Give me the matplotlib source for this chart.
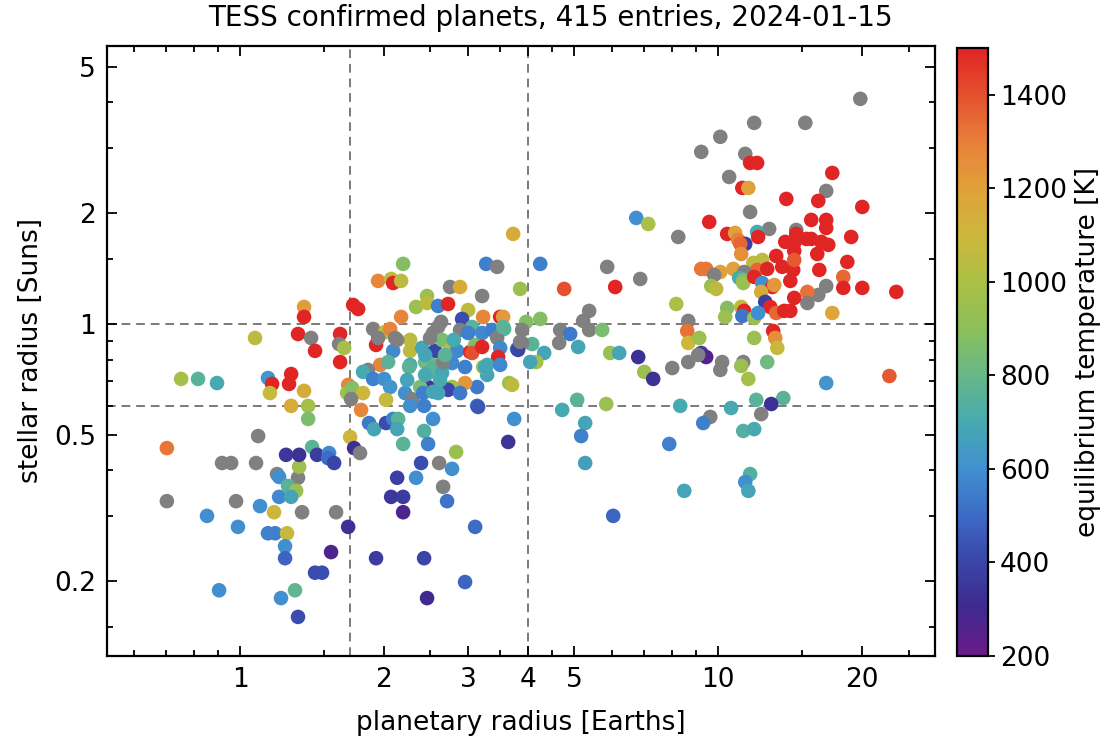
import numpy as np
import matplotlib
matplotlib.use("Agg")
import matplotlib.pyplot as plt
from matplotlib.colors import LinearSegmentedColormap
from matplotlib.ticker import FixedLocator, FixedFormatter, NullFormatter

# ------------------------------------------------------------
# data (nan = no temperature -> grey)
# ------------------------------------------------------------
nan = np.nan

# small planets / sub-Neptunes, left part
r_planet_small = [
    0.703, 0.703, 0.753, 0.817, 0.895, 0.853, 0.904, 0.917, 0.958, 0.981,
    0.990, 1.075, 1.080, 1.091, 1.101, 1.144, 1.167, 1.155, 1.279, 1.266,
    1.361, 1.279, 1.388, 1.388, 1.178, 1.207, 1.195, 1.207, 1.322, 1.329,
    1.260, 1.310, 1.279, 1.348, 1.588, 1.144, 1.184, 1.254, 1.242, 1.242,
    1.415, 1.248, 1.329, 1.449, 1.535, 1.528, 1.573, 1.683, 1.550, 1.435,
    1.484, 1.303, 1.218, 1.322, 1.699, 1.732, 1.782, 1.361, 1.361, 1.724,
    1.766, 1.322, 1.408, 1.435, 1.619, 1.611, 1.651, 1.619,
]
r_star_small = [
    0.460, 0.330, 0.709, 0.709, 0.691, 0.301, 0.189, 0.419, 0.419, 0.330,
    0.281, 0.916, 0.419, 0.496, 0.320, 0.713, 0.687, 0.649, 0.731, 0.687,
    0.658, 0.599, 0.599, 0.552, 0.308, 0.339, 0.391, 0.384, 0.382, 0.409,
    0.363, 0.352, 0.339, 0.308, 0.308, 0.270, 0.270, 0.270, 0.249, 0.231,
    0.463, 0.441, 0.441, 0.441, 0.446, 0.432, 0.419, 0.281, 0.240, 0.211,
    0.211, 0.189, 0.180, 0.160, 0.493, 0.460, 0.446, 1.112, 1.045, 1.126,
    1.098, 0.939, 0.916, 0.845, 0.939, 0.882, 0.861, 0.788,
]
t_eq_small = [
    1320, nan, 980, 760, 700, 600, 600, nan, nan, nan,
    600, 1050, nan, nan, 600, 620, 1500, 1080, 1500, 1500,
    1150, 1150, 980, 860, 1100, 580, nan, 600, nan, 950,
    760, 950, 680, nan, nan, 560, 560, 1080, 600, 480,
    760, 350, 330, 370, 580, 500, 400, 330, 270, 420,
    420, 780, 600, 420, 1100, 320, nan, 1220, 1500, 1500,
    1500, 1500, nan, 1500, 1500, nan, 980, 1500,
]

# central cluster, 1.8 - 6 Earth radii
r_planet_mid = [
    3.725, 2.193, 1.944, 2.070, 2.090, 2.172, 3.271, 3.449, 3.852, 2.749,
    2.885, 3.208, 2.461, 2.334, 2.461, 2.595, 2.723, 2.999, 2.172, 2.913,
    3.224, 3.499, 3.550, 4.244, 4.762, 6.089, 5.859, 6.869, 6.739, 7.139,
    8.249, 5.372, 5.218, 5.372, 5.719, 4.672, 4.649, 4.902, 5.094, 4.325,
    4.163, 4.083, 4.244, 3.966, 3.890, 3.890, 3.797, 3.567, 1.898, 2.011,
    2.060, 1.925, 1.944, 2.110, 2.090, 2.268, 2.268, 2.403, 2.558, 2.595,
    2.533, 2.646, 2.749, 2.844, 3.028, 3.102, 3.058, 3.208, 3.367, 3.449,
    3.550, 3.499, 3.465, 2.885, 2.999, 1.963, 2.040, 1.852, 2.268, 2.438,
    2.533, 2.776, 2.955, 3.286, 3.499, 1.808, 1.898, 2.001, 2.060, 2.020,
    2.257, 2.214, 2.290, 2.268, 2.426, 2.533, 1.861, 1.907, 2.020, 2.090,
    2.141, 2.131, 2.193, 2.426, 2.473, 2.391, 2.608, 2.776, 2.334, 2.131,
    2.659, 2.710, 2.070, 2.193, 2.193, 3.102, 2.830, 1.925, 2.426, 2.955,
    2.461, 3.637, 3.743, 3.132, 3.132, 2.955, 2.776, 2.723, 2.473, 2.380,
    2.414, 2.533, 2.595, 2.885, 3.654, 3.707, 3.286, 3.224, 2.473, 2.533,
    2.646, 2.620, 2.659, 3.058, 3.208, 3.255, 3.147, 3.815, 3.852, 4.044,
    1.683, 1.675, 1.716, 1.808, 1.707, 1.791, 2.236, 2.438, 2.131, 2.633,
    2.497, 2.438, 2.684, 2.800,
]
r_star_mid = [
    1.756, 1.456, 1.309, 1.325, 1.292, 1.309, 1.456, 1.429, 1.245, 1.260,
    1.260, 1.191, 1.191, 1.112, 1.140, 1.119, 1.133, 1.091, 1.045, 1.032,
    1.045, 1.045, 1.045, 1.456, 1.245, 1.260, 1.429, 1.325, 1.941, 1.869,
    1.723, 1.085, 1.019, 0.963, 0.963, 0.963, 0.888, 0.939, 0.866, 0.834,
    0.788, 0.882, 1.032, 1.013, 0.963, 0.888, 0.855, 0.969, 0.969, 0.951,
    0.969, 0.877, 0.916, 0.916, 0.845, 0.905, 0.845, 0.861, 0.845, 0.981,
    0.945, 0.905, 0.850, 0.845, 0.839, 0.877, 0.981, 0.945, 0.963, 0.916,
    0.981, 0.861, 0.813, 0.963, 0.945, 0.774, 0.788, 0.750, 0.774, 0.788,
    0.774, 0.783, 0.764, 0.774, 0.774, 0.741, 0.709, 0.709, 0.674, 0.622,
    0.764, 0.649, 0.625, 0.599, 0.599, 0.552, 0.538, 0.518, 0.538, 0.552,
    0.552, 0.518, 0.472, 0.512, 0.472, 0.419, 0.419, 0.404, 0.382, 0.382,
    0.361, 0.330, 0.339, 0.339, 0.308, 0.281, 0.449, 0.231, 0.231, 0.199,
    0.180, 0.478, 0.552, 0.674, 0.599, 0.691, 0.674, 0.662, 0.674, 0.674,
    0.649, 0.654, 0.649, 0.649, 0.691, 0.683, 0.727, 0.764, 0.736, 0.759,
    0.736, 0.704, 0.788, 0.834, 0.866, 0.764, 0.595, 0.850, 0.894, 0.788,
    0.683, 0.649, 0.670, 0.649, 0.625, 0.584, 0.704, 0.727, 0.905, 1.013,
    0.916, 0.824, 0.824, 0.905,
]
t_eq_mid = [
    1150, 880, 1280, 1050, 1500, 1050, 560, nan, 950, nan,
    1150, nan, 950, 950, 1050, 560, 1500, 1050, 1280, 420,
    1280, 1500, 1220, 560, 1400, 1500, nan, nan, 600, 1000,
    nan, nan, nan, nan, 850, nan, nan, 540, 680, 680,
    980, 760, 880, 880, nan, nan, 500, 760, nan, 1050,
    1280, 1500, nan, nan, 580, 1050, 1050, 680, 400, nan,
    nan, 850, 1050, 580, 1500, 880, 760, 580, 560, nan,
    760, 580, 1500, nan, 560, 1280, 760, nan, 700, 820,
    820, 580, 560, 700, 580, 700, 560, 600, 620, 1080,
    760, 600, nan, 600, 560, 600, 540, 680, 420, 560,
    760, 680, 760, 740, 560, 420, nan, 600, 600, 380,
    nan, 520, 350, 370, 280, 500, 950, 370, 400, 480,
    300, 340, 600, 540, 500, 1230, 950, 400, 350, 850,
    560, 680, 680, 540, 950, 1050, 680, 980, 700, 760,
    680, 700, nan, 1400, 1500, 680, 450, 400, nan, 680,
    1280, 950, 880, 1100, nan, 1280, 680, 700, nan, nan,
    nan, 680, 760, 700,
]

# giant planets, > 6 Earth radii
r_planet_big = [
    19.82, 11.89, 15.21, 10.10, 9.215, 11.39, 11.66, 12.06, 17.32, 10.54,
    11.23, 11.56, 16.82, 13.88, 16.19, 20.01, 11.66, 9.576, 15.65, 16.82,
    16.82, 12.78, 14.56, 14.56, 10.44, 10.85, 12.06, 12.12, 18.97, 15.28,
    15.65, 11.01, 11.39, 11.12, 13.81, 14.42, 16.42, 16.99, 11.17, 14.42,
    13.22, 16.11, 18.62, 12.36, 11.84, 12.06, 12.66, 13.61, 14.35, 14.42,
    16.27, 9.215, 9.438, 10.75, 10.10, 9.809, 11.33, 11.06, 11.28, 11.28,
    11.89, 12.36, 12.97, 13.10, 14.15, 18.26, 18.26, 20.01, 23.57, 16.82,
    16.19, 15.36, 15.36, 14.42, 12.30, 12.54, 12.85, 9.669, 9.904, 8.170,
    10.44, 10.34, 11.17, 11.33, 11.23, 11.89, 12.12, 13.22, 13.74, 14.15,
    17.32, 13.03, 13.16, 13.29, 11.89, 8.656, 8.614, 8.656, 9.126, 9.215,
    9.438, 9.081, 6.803, 5.945, 6.208, 7.003, 7.311, 8.014, 8.656, 10.10,
    10.19, 11.28, 11.17, 11.56, 12.66, 22.80, 16.82, 13.68, 12.91, 12.01,
    12.30, 10.64, 11.28, 11.89, 11.66, 11.39, 11.56, 9.623, 9.303, 8.329,
    8.491, 7.899, 6.031, 5.831, 5.070, 4.717, 5.269, 5.168, 5.269,
]
r_star_big = [
    4.088, 3.518, 3.518, 3.224, 2.934, 2.897, 2.738, 2.738, 2.572, 2.508,
    2.342, 2.342, 2.298, 2.186, 2.159, 2.079, 2.015, 1.893, 1.917, 1.917,
    1.823, 1.812, 1.800, 1.756, 1.756, 1.767, 1.778, 1.723, 1.723, 1.702,
    1.702, 1.691, 1.650, 1.650, 1.671, 1.660, 1.671, 1.640, 1.549, 1.579,
    1.530, 1.549, 1.474, 1.492, 1.465, 1.402, 1.411, 1.429, 1.402, 1.492,
    1.402, 1.411, 1.411, 1.411, 1.384, 1.359, 1.384, 1.334, 1.317, 1.292,
    1.342, 1.292, 1.260, 1.276, 1.309, 1.342, 1.253, 1.253, 1.222, 1.268,
    1.199, 1.222, 1.140, 1.177, 1.222, 1.148, 1.112, 1.268, 1.245, 1.133,
    1.105, 1.045, 1.112, 1.085, 1.051, 1.038, 1.071, 1.071, 1.085, 1.085,
    1.071, 0.957, 0.916, 0.861, 0.916, 1.019, 0.957, 0.888, 0.916, 0.834,
    0.813, 0.824, 0.813, 0.834, 0.834, 0.741, 0.709, 0.759, 0.788, 0.750,
    0.788, 0.788, 0.769, 0.709, 0.788, 0.722, 0.691, 0.629, 0.606, 0.622,
    0.569, 0.591, 0.512, 0.518, 0.391, 0.372, 0.352, 0.559, 0.538, 0.599,
    0.352, 0.472, 0.301, 0.606, 0.622, 0.584, 0.538, 0.496, 0.419,
]
t_eq_big = [
    nan, nan, nan, nan, nan, nan, 1500, 1500, 1500, nan,
    1500, 1200, nan, 1500, 1500, 1500, nan, 1500, 1500, 1500,
    1500, nan, nan, 1500, 1500, 1200, 700, 1500, 1500, 1500,
    1500, 1300, 380, 1350, 1500, 1500, 1500, 1500, 1250, 1500,
    1500, 1500, 1500, 1050, 1050, 1350, 1500, 1500, 1500, 1380,
    1500, 1320, 1320, 1200, 1200, nan, nan, 700, 850, 950,
    1500, 600, 1500, 1230, 1500, 1350, 1500, 1500, 1500, nan,
    nan, 1330, nan, 1500, 1150, 380, 1500, 950, 1050, 1000,
    880, 950, 1050, 1500, 530, 950, 600, 1350, 1500, 1500,
    1180, 1500, 1250, 1080, 950, nan, 1330, 1100, 950, 380,
    260, nan, 330, 950, 680, 950, 330, nan, nan, nan,
    nan, nan, 950, 980, 820, 1380, 620, 760, 330, 760,
    nan, 700, 740, 700, 740, 600, 680, nan, 560, 700,
    680, 560, 480, 950, 760, 700, 680, 560, 660,
]

# reference guide lines
R_PLANET_CUTS = [1.7, 4.0]
R_STAR_CUTS = [0.6, 1.0]

# colormap anchors (temperature K, colour)
CMAP_T = [200, 300, 400, 500, 600, 700, 800, 900, 1000, 1100, 1200, 1300, 1400, 1500]
CMAP_C = ["#6a1b8a", "#40298f", "#3a45a8", "#3c6cc6", "#4290d0", "#46aab0",
          "#67b889", "#8cbf5a", "#abc046", "#ccb73b", "#e0a13a", "#e8803a",
          "#e4512e", "#e02525"]
T_MIN, T_MAX = 200, 1500

FONT = ["DejaVu Sans"]


def main():
    plt.rcParams["font.family"] = FONT

    rp = np.array(r_planet_small + r_planet_mid + r_planet_big, dtype=float)
    rs = np.array(r_star_small + r_star_mid + r_star_big, dtype=float)
    te = np.array(t_eq_small + t_eq_mid + t_eq_big, dtype=float)

    pos = [(t - T_MIN) / (T_MAX - T_MIN) for t in CMAP_T]
    cmap = LinearSegmentedColormap.from_list("teq", list(zip(pos, CMAP_C)))
    cmap.set_bad("#808080")

    fig = plt.figure(figsize=(11.16, 7.43), dpi=100)
    ax = fig.add_axes([0.0959, 0.1171, 0.7419, 0.8210])
    cax = fig.add_axes([0.8575, 0.1171, 0.0280, 0.8183])

    for v in R_PLANET_CUTS:
        ax.axvline(v, color="#7a7a7a", linestyle=(0, (4.5, 3)), linewidth=1.4, zorder=1)
    for v in R_STAR_CUTS:
        ax.axhline(v, color="#7a7a7a", linestyle=(0, (4.5, 3)), linewidth=1.4, zorder=1)

    sc = ax.scatter(rp, rs, c=te, cmap=cmap, vmin=T_MIN, vmax=T_MAX, s=110,
                    linewidths=0, plotnonfinite=True, zorder=2)

    ax.set_xscale("log")
    ax.set_yscale("log")
    ax.set_xlim(0.527, 28.4)
    ax.set_ylim(0.1253, 5.69)

    xmaj = [1, 2, 3, 4, 5, 10, 20]
    ax.xaxis.set_major_locator(FixedLocator(xmaj))
    ax.xaxis.set_major_formatter(FixedFormatter([str(v) for v in xmaj]))
    ax.xaxis.set_minor_locator(FixedLocator([0.6, 0.7, 0.8, 0.9, 1.5, 2.5, 3.5, 4.5,
                                             6, 7, 8, 9, 15, 25]))
    ax.xaxis.set_minor_formatter(NullFormatter())

    ymaj = [0.2, 0.5, 1, 2, 5]
    ax.yaxis.set_major_locator(FixedLocator(ymaj))
    ax.yaxis.set_major_formatter(FixedFormatter(["0.2", "0.5", "1", "2", "5"]))
    ax.yaxis.set_minor_locator(FixedLocator([0.15, 0.3, 0.4, 0.6, 0.7, 0.8, 0.9,
                                             1.5, 3, 4]))
    ax.yaxis.set_minor_formatter(NullFormatter())

    ax.tick_params(which="both", direction="in", top=True, right=True,
                   labelsize=19, width=1.3, pad=8)
    ax.tick_params(which="major", length=7)
    ax.tick_params(which="minor", length=4)
    for sp in ax.spines.values():
        sp.set_linewidth(1.6)

    ax.set_xlabel("planetary radius [Earths]", fontsize=19, labelpad=12)
    ax.set_ylabel("stellar radius [Suns]", fontsize=19, labelpad=7)
    fig.suptitle("TESS confirmed planets, 415 entries, 2024-01-15", fontsize=20,
                 x=0.493, y=0.995, va="top")

    cb = fig.colorbar(sc, cax=cax)
    cb.set_ticks(range(200, 1401, 200))
    cb.ax.tick_params(labelsize=19, length=5, width=1.3, direction="out")
    cb.outline.set_linewidth(1.6)
    cb.set_label("equilibrium temperature [K]", fontsize=19, labelpad=6)

    fig.savefig("out.png", dpi=100)


if __name__ == "__main__":
    main()
